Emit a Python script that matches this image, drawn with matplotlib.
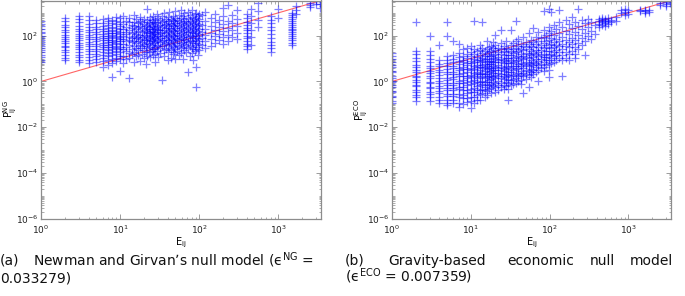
import matplotlib
matplotlib.use('Agg')
import matplotlib.pyplot as plt
import numpy as np
from matplotlib.ticker import LogLocator, NullFormatter

# ---------------- data ----------------
# (a) Newman-Girvan null model: E_ij columns and the P_ij values in each column
ng_E = [1, 2, 3, 4, 5, 6, 7, 8, 9, 10,
        11, 12, 13, 14, 15, 16, 17, 18, 19, 20,
        21, 22, 23, 24, 25, 26, 27, 28, 29, 30,
        32, 34, 36, 38, 40, 42, 44, 46, 48, 50,
        53, 56, 59, 62, 65, 68, 72, 76, 80, 84,
        88, 92, 96, 100,
        110, 120, 140, 160, 180, 200, 230, 260, 300,
        400, 450, 550, 800, 1000, 1500, 1700, 2500, 3000, 3400]
ng_P = [
    [460, 330, 270, 190, 150, 128, 101, 83, 66, 52, 45, 36, 29, 24, 19, 14, 11.5, 9, 6.8],
    [620, 420, 300, 235, 170, 142, 110, 92, 71, 58, 46, 37, 31, 24, 19, 14.5, 11, 8.6],
    [740, 520, 390, 260, 205, 160, 122, 96, 80, 62, 50, 41, 33, 25, 20, 15, 11.5, 8.8, 6.9],
    [760, 480, 330, 240, 182, 140, 108, 86, 70, 55, 43, 34, 27, 21, 16, 12, 9, 6.5],
    [470, 350, 250, 190, 148, 115, 90, 72, 57, 44, 35, 27, 21, 16.5, 12.5, 9.5, 7],
    [520, 370, 270, 205, 155, 120, 97, 78, 62, 49, 39, 31, 25, 19, 14, 10.5, 7.5, 4.2],
    [610, 420, 300, 215, 162, 126, 100, 80, 64, 51, 40, 31, 24, 18, 13, 9, 5.3],
    [500, 345, 250, 185, 138, 107, 84, 66, 53, 42, 33, 26, 19.5, 14, 10, 6.5, 1.5],
    [690, 430, 310, 225, 168, 128, 98, 76, 60, 47, 37, 29, 22, 16, 11, 7.5],
    [570, 395, 280, 200, 150, 116, 90, 71, 56, 43, 33, 25, 19, 13.5, 9.2, 3],
    [720, 310, 205, 96, 71, 44, 27, 13, 6.2],
    [460, 240, 150, 118, 58, 33, 21, 9.5],
    [610, 380, 175, 88, 64, 39, 17, 11, 1.4],
    [290, 210, 133, 81, 52, 26, 15.5],
    [820, 415, 262, 146, 99, 57, 36, 19, 7.4],
    [530, 188, 124, 77, 48, 30, 12.5],
    [350, 246, 160, 92, 61, 23, 14],
    [680, 440, 270, 112, 73, 41, 28, 8.1],
    [395, 215, 139, 86, 54, 34, 16.5],
    [560, 330, 178, 104, 67, 45, 24, 10.5],
    [260, 158, 95, 62, 37, 20, 5.8],
    [1450, 505, 300, 196, 126, 83, 50, 29, 13],
    [410, 232, 143, 74, 42, 18.5],
    [640, 350, 205, 135, 90, 56, 31, 11.5],
    [470, 280, 167, 108, 66, 39, 22],
    [720, 380, 242, 152, 97, 60, 27, 14.5],
    [315, 190, 121, 78, 47, 25],
    [540, 410, 226, 144, 88, 53, 33, 16, 7],
    [860, 345, 198, 117, 70, 40, 21.5],
    [600, 268, 172, 102, 63, 36, 12],
    [480, 302, 186, 130, 82, 51, 29, 17.5],
    [730, 390, 250, 148, 93, 57, 34, 1.2],
    [950, 455, 285, 170, 112, 68, 42, 23, 13.5],
    [520, 330, 208, 126, 79, 46, 26],
    [680, 420, 262, 160, 100, 62, 38, 19, 8.5],
    [1050, 365, 225, 140, 86, 55, 30],
    [560, 310, 195, 118, 72, 44, 24, 11],
    [760, 480, 288, 176, 108, 66, 35, 16],
    [420, 256, 158, 96, 59, 32, 20],
    [1250, 620, 350, 215, 131, 80, 48, 27, 9.5],
    [510, 300, 182, 113, 69, 41, 22],
    [830, 445, 268, 165, 101, 62, 36, 14],
    [1380, 590, 360, 222, 136, 82, 50, 28, 17],
    [700, 395, 240, 150, 92, 55, 31, 10],
    [940, 520, 318, 195, 120, 74, 44, 24],
    [460, 282, 172, 106, 65, 38, 19.5],
    [1120, 610, 370, 228, 139, 85, 52, 29, 2.6],
    [780, 430, 262, 160, 98, 60, 34, 13],
    [1300, 690, 405, 250, 152, 93, 56, 31, 17],
    [560, 335, 206, 126, 77, 46, 25, 8.8],
    [880, 490, 298, 182, 111, 67, 38, 21],
    [1020, 600, 365, 222, 134, 81, 47, 26, 4.2, 0.6],
    [720, 420, 255, 155, 94, 57, 32, 15],
    [930, 540, 330, 200, 122, 73, 42, 23],
    [800, 300, 150, 80, 40],
    [1100, 450, 200, 110, 60, 30],
    [600, 260, 130, 70, 35],
    [900, 380, 180, 95, 50],
    [500, 230, 120, 65],
    [1600, 700, 320, 160, 85, 45],
    [2200, 450, 220, 110, 60],
    [800, 350, 170, 90],
    [1300, 550, 260, 130, 70],
    [900, 600, 400, 300, 220, 170, 130, 100, 80, 60, 45, 35, 25],
    [1500, 700, 350, 180, 90, 40],
    [2800, 1200, 500, 250],
    [700, 500, 350, 250, 180, 120, 80, 55, 40, 28, 20],
    [1500, 600],
    [1000, 800, 650, 520, 420, 350, 290, 240, 200, 170, 140, 115, 95, 80, 65, 50, 40],
    [2000, 1400, 900],
    [2800, 2200, 1800],
    [3200, 2500],
    [3300, 2400, 1600],
]

# (b) Gravity-based economic null model
eco_E = [1, 2, 3, 4, 5, 6, 7, 8, 9, 10,
         11, 12, 13, 14, 15, 16, 17, 18, 19, 20,
         22, 24, 26, 28, 30, 32, 34, 37, 40, 43,
         46, 50, 54, 58, 62, 67, 72, 78, 84, 90,
         97, 105, 113, 122, 132, 145, 160, 175, 190, 210,
         230, 255, 280, 310, 340, 380, 420, 460, 500, 550,
         600, 700, 800, 900, 1000, 1400, 1600, 1800, 2500, 3000, 3400]
eco_P = [
    [17, 13, 9.5, 7.2, 5.1, 4.1, 2.9, 2.5, 1.7, 1.45, 1.05, 0.92, 0.68, 0.57, 0.4, 0.33, 0.24, 0.2, 0.14, 0.12],
    [380, 22, 16, 10.5, 7.8, 5.2, 4.4, 3.1, 2.6, 1.8, 1.55, 1.15, 0.98, 0.72, 0.61, 0.44, 0.36, 0.26, 0.21, 0.14],
    [100, 21, 14, 9.2, 7.3, 4.8, 3.9, 2.8, 2.3, 1.65, 1.35, 0.96, 0.82, 0.6, 0.5, 0.36, 0.29, 0.2, 0.14],
    [40, 8.3, 5.9, 4.6, 3.2, 2.6, 1.85, 1.45, 1.05, 0.88, 0.63, 0.52, 0.37, 0.3, 0.21, 0.16, 0.12],
    [380, 100, 13, 8.7, 6.7, 4.6, 3.6, 2.5, 2.05, 1.45, 1.2, 0.85, 0.7, 0.5, 0.41, 0.29, 0.24, 0.16, 0.12, 0.09],
    [60, 14, 9.8, 7.2, 4.9, 3.8, 2.7, 2.2, 1.55, 1.25, 0.88, 0.72, 0.5, 0.41, 0.29, 0.23, 0.15, 0.11],
    [45, 17, 11.5, 7.6, 5.8, 3.8, 3.1, 2.05, 1.7, 1.1, 0.9, 0.58, 0.45, 0.29, 0.21, 0.12, 0.08],
    [25, 13.5, 8.6, 6.8, 4.4, 3.5, 2.3, 1.8, 1.15, 0.9, 0.57, 0.42, 0.26, 0.19, 0.1],
    [30, 15.5, 10.5, 6.7, 5.2, 3.4, 2.7, 1.8, 1.4, 0.92, 0.68, 0.43, 0.31, 0.19, 0.13],
    [35, 19, 12.5, 8.2, 6.3, 4, 3.1, 2, 1.55, 1, 0.75, 0.48, 0.34, 0.21, 0.14, 0.07],
    [450, 27, 15.5, 9.6, 7.3, 4.8, 3.6, 2.3, 1.75, 1.15, 0.82, 0.53, 0.36, 0.21, 0.12],
    [21, 11.5, 8.3, 5.4, 4.1, 2.7, 2.05, 1.35, 0.98, 0.62, 0.44, 0.26, 0.16],
    [40, 23, 14.5, 9.1, 6.9, 4.4, 3.3, 2.1, 1.55, 0.97, 0.7, 0.43, 0.29, 0.15],
    [380, 29, 17.5, 10.6, 7.8, 5, 3.7, 2.4, 1.75, 1.1, 0.78, 0.46, 0.31],
    [22, 12.5, 9.3, 6, 4.5, 2.9, 2.1, 1.35, 0.98, 0.6, 0.41, 0.22],
    [60, 25, 16.5, 10.1, 7.3, 4.6, 3.4, 2.2, 1.6, 0.96, 0.67, 0.39, 0.25],
    [33, 19, 12.5, 8.1, 5.6, 3.7, 2.6, 1.7, 1.15, 0.72, 0.46],
    [36, 20.5, 13.5, 8.2, 6, 3.9, 2.8, 1.75, 1.25, 0.77, 0.52, 0.3],
    [52, 28, 15, 11, 7.1, 4.9, 3.2, 2.3, 1.5, 0.98, 0.62],
    [110, 41, 23, 15.5, 9.6, 7, 4.4, 3.2, 2, 1.45, 0.87, 0.57, 0.33],
    [30, 18.5, 11.5, 8.3, 5.2, 3.7, 2.3, 1.65, 1.02, 0.7, 0.42],
    [170, 46, 25, 16.5, 10.1, 7.2, 4.5, 3.2, 2.05, 1.45, 0.88, 0.56],
    [36, 20.5, 14.5, 8.9, 6.4, 4, 2.8, 1.75, 1.25, 0.73, 0.46],
    [60, 29, 18.5, 11, 7.9, 4.8, 3.4, 2.15, 1.5, 0.92, 0.61],
    [26, 14.5, 10.2, 6.3, 4.4, 2.7, 1.95, 1.2, 0.82, 0.49, 0.15],
    [170, 41, 21, 14.5, 8.7, 6.2, 3.8, 2.7, 1.65, 1.15, 0.68],
    [47, 27, 17, 10.8, 7.4, 4.6, 3.1, 1.95, 1.3, 0.78],
    [450, 57, 29, 18.5, 11.5, 8.1, 4.9, 3.5, 2.1, 1.45, 0.88],
    [72, 34, 21.5, 13, 9.1, 5.6, 3.9, 2.4, 1.65, 1.02],
    [44, 26.5, 15.5, 10.8, 6.6, 4.6, 2.8, 1.9, 1.2, 0.74],
    [92, 37, 23, 13.5, 9.5, 5.8, 4, 2.4, 1.65, 0.3],
    [54, 31, 17.5, 12, 7.3, 5, 3.1, 2.15, 1.3],
    [130, 44, 27, 15.5, 10.8, 6.7, 4.6, 2.8, 1.85, 0.6],
    [68, 37, 20.5, 14, 8.6, 5.9, 3.6, 2.5, 1.5],
    [220, 54, 31, 17.5, 12, 7.3, 5, 3.1, 2.05],
    [88, 43, 23.5, 15.5, 9.6, 6.5, 4.1, 2.7],
    [140, 59, 33, 18.5, 12.5, 7.6, 5.2, 3.2, 1],
    [76, 39, 24.5, 14.5, 9.8, 5.9, 3.9],
    [1200, 175, 92, 47, 29, 16.5, 11.5, 6.8, 4.5, 2.8],
    [108, 56, 31, 20.5, 12, 8.3, 5],
    [1500, 245, 133, 63, 39, 22, 14.5, 8.6, 5.7, 3.3, 1.6],
    [1100, 165, 82, 43, 28, 15.5, 10.5, 6.2],
    [290, 112, 53, 33, 18.5, 12.5, 7],
    [205, 73, 41, 23, 15, 9],
    [1350, 385, 134, 58, 34, 19.5, 11],
    [245, 92, 44, 27, 14.5, 8.5, 1.8],
    [510, 168, 66, 36, 19, 11],
    [315, 122, 54, 31, 16.5, 9],
    [690, 225, 83, 43, 22],
    [395, 148, 66, 31, 16, 11],
    [1500, 275, 112, 49, 26],
    [500, 188, 79, 38],
    [345, 128, 61, 14],
    [560, 240, 95],
    [410, 165, 70],
    [290, 120],
    [550, 420, 320, 240],
    [600, 480, 380, 300],
    [520, 420, 350, 280],
    [600, 450, 340],
    [500, 380],
    [650, 450],
    [1300, 1000],
    [1500, 1100, 800],
    [1300, 900],
    [1400, 1200],
    [1350, 1150, 1000],
    [1300, 1100],
    [2800, 2200],
    [3000, 2500, 2000],
    [3200, 2700],
]

x_ticks = [1, 10, 100, 1000]
y_ticks = [1e-6, 1e-4, 1e-2, 1, 1e2]
axis_max = 3470
y_min = 1e-6

caption_a1 = "Newman and Girvan’s null model (ϵ$^{\\rm NG}$ ="
caption_a2 = "0.033279)"
caption_b1 = ["Gravity-based", "economic", "null", "model"]
caption_b2 = "(ϵ$^{\\rm ECO}$ = 0.007359)"

# ---------------- figure ----------------
W, H = 685, 296
fig = plt.figure(figsize=(W / 100, H / 100), dpi=100)
GRAY = '#8c8c8c'


def px_rect(x0, x1, y_top, y_bot):
    return [x0 / W, 1 - y_bot / H, (x1 - x0) / W, (y_bot - y_top) / H]


def flatten(E, P):
    xs, ys = [], []
    for e, col in zip(E, P):
        xs.extend([e] * len(col))
        ys.extend(col)
    return xs, ys


def draw(ax, E, P, sup, width_px):
    xs, ys = flatten(E, P)
    ax.set_xscale('log')
    ax.set_yscale('log')
    ax.plot([1, axis_max], [1, axis_max], color='#ff4a4a', lw=0.8, alpha=0.85, zorder=1)
    ax.plot(xs, ys, ls='none', marker='+', ms=5.5, mew=0.9, color='#0000ff', alpha=0.5, zorder=2)
    ax.set_xlim(1, axis_max)
    ax.set_ylim(y_min, axis_max)
    ax.set_xticks(x_ticks)
    ax.set_yticks(y_ticks)
    ax.xaxis.set_minor_locator(LogLocator(base=10, subs=np.arange(2, 10), numticks=100))
    ax.yaxis.set_minor_locator(LogLocator(base=10, subs=np.arange(1, 10), numticks=100))
    ax.xaxis.set_minor_formatter(NullFormatter())
    ax.yaxis.set_minor_formatter(NullFormatter())
    ax.tick_params(which='both', direction='in', top=True, right=True, color=GRAY,
                   labelsize=6.5, labelcolor='#222222', pad=2)
    ax.tick_params(axis='x', which='major', pad=3.5)
    ax.tick_params(which='major', length=3.5, width=0.6)
    ax.tick_params(which='minor', length=1.8, width=0.5)
    for s in ax.spines.values():
        s.set_color(GRAY)
        s.set_linewidth(0.9)
    ax.set_xlabel(r'E$_{\rm ij}$', fontsize=7, labelpad=0)
    ax.set_ylabel(r'P$_{\rm ij}^{\rm %s}$' % sup, fontsize=7)
    ax.yaxis.set_label_coords(-22.0 / width_px, 0.5)


ax1 = fig.add_axes(px_rect(41, 321, 0.5, 218.7))
draw(ax1, ng_E, ng_P, 'NG', 280)
ax2 = fig.add_axes(px_rect(392, 671, 0.5, 218.7))
draw(ax2, eco_E, eco_P, 'ECO', 279)


def ftext(px, py, s, **kw):
    fig.text(px / W, 1 - py / H, s, va='baseline', ha='left', fontsize=10, color='#111111', **kw)


ftext(0, 265, "(a)")
ftext(33, 265, caption_a1)
ftext(0, 282, caption_a2)
ftext(345, 265, "(b)")
for word, xp in zip(caption_b1, [388, 507, 590, 630]):
    ftext(xp, 265, word)
ftext(345, 282, caption_b2)

fig.savefig('out.png', dpi=100)
